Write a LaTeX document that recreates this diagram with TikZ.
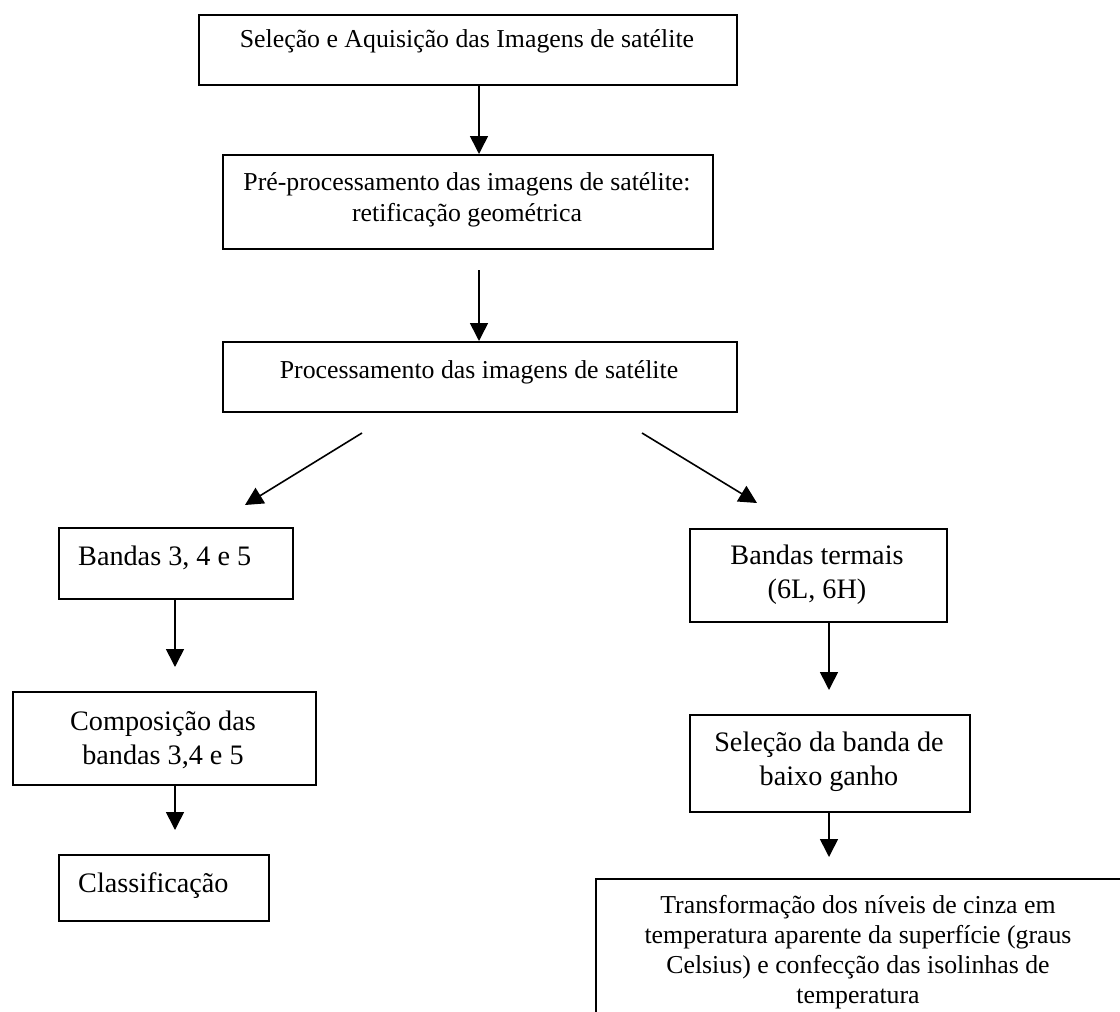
\documentclass[tikz,border=0pt]{standalone}
\usepackage{fontspec}
\setmainfont{Liberation Serif}
\usetikzlibrary{arrows.meta,calc}
% raise the first line to a fixed height so a label's north is 22pt above its first baseline
\newcommand{\firstline}{\rule{0pt}{22pt}}
\tikzset{
  box/.style={draw, line width=1.8pt, anchor=north west, inner sep=0pt},
  flow/.style={line width=1.6pt, -{Triangle[width=18pt,length=18pt]}},
  lbl/.style={anchor=north, inner sep=0pt, align=center, font=\fontsize{25.8}{31}\selectfont},
  lblbig/.style={lbl, font=\fontsize{28.2}{34}\selectfont},
}
\begin{document}
\begin{tikzpicture}[x=1pt,y=-1pt]
\useasboundingbox (0,0) rectangle (1120,1012);
\clip (0,0) rectangle (1120,1012);

% boxes
\node[box, minimum width=538pt, minimum height=70pt] (b1) at (198,14) {};
\node[box, minimum width=490pt, minimum height=94pt] (b2) at (222,154) {};
\node[box, minimum width=514pt, minimum height=70pt] (b3) at (222,341) {};
\node[box, minimum width=234pt, minimum height=71pt] (b4) at (58,527) {};
\node[box, minimum width=303pt, minimum height=93pt] (b5) at (12,691) {};
\node[box, minimum width=210pt, minimum height=66pt] (b8) at (58,854) {};
\node[box, minimum width=257pt, minimum height=93pt] (b6) at (689,528) {};
\node[box, minimum width=280pt, minimum height=97pt] (b7) at (689,714) {};
\node[box, minimum width=560pt, minimum height=200pt] (b9) at (595,878) {};

% texts (placed by first baseline minus 22)
\node[lbl] (t1) at (467,25) {\firstline Seleção e Aquisição das Imagens de satélite};
\node[lbl] (t2) at (467,168) {\firstline Pré-processamento das imagens de satélite:\\retificação geométrica};
\node[lbl] (t3) at (479,356) {\firstline Processamento das imagens de satélite};
\node[lblbig, anchor=north west] (t4) at (78,543) {\firstline Bandas 3, 4 e 5};
\node[lblbig] (t5) at (163,708) {\firstline Composição das\\bandas 3,4 e 5};
\node[lblbig, anchor=north west] (t8) at (78,870) {\firstline Classificação};
\node[lblbig] (t6) at (817,542) {\firstline Bandas termais\\(6L, 6H)};
\node[lblbig] (t7) at (829,729) {\firstline Seleção da banda de\\baixo ganho};
\node[lbl, font=\fontsize{25.8}{30}\selectfont] (t9) at (858,891) {\firstline Transformação dos níveis de cinza em\\temperatura aparente da superfície (graus\\Celsius) e confecção das isolinhas de\\temperatura};

% connectors
\coordinate (c1) at (479,0);
\draw[flow] (b1.south -| c1) -- (b2.north -| c1);
\coordinate (a2) at (479,270);
\draw[flow] (a2) -- (b3.north -| a2);
\coordinate (dl0) at (362,433);
\coordinate (dl1) at (245,505);
\draw[flow] (dl0) -- (dl1);
\coordinate (dr0) at (642,433);
\coordinate (dr1) at (757,503);
\draw[flow] (dr0) -- (dr1);
\coordinate (a4) at (175,667);
\draw[flow] (b4.south -| a4) -- (a4);
\coordinate (a5) at (175,830);
\draw[flow] (b5.south -| a5) -- (a5);
\coordinate (a6) at (829,690);
\draw[flow] (b6.south -| a6) -- (a6);
\coordinate (a7) at (829,857);
\draw[flow] (b7.south -| a7) -- (a7);
\end{tikzpicture}
\end{document}
